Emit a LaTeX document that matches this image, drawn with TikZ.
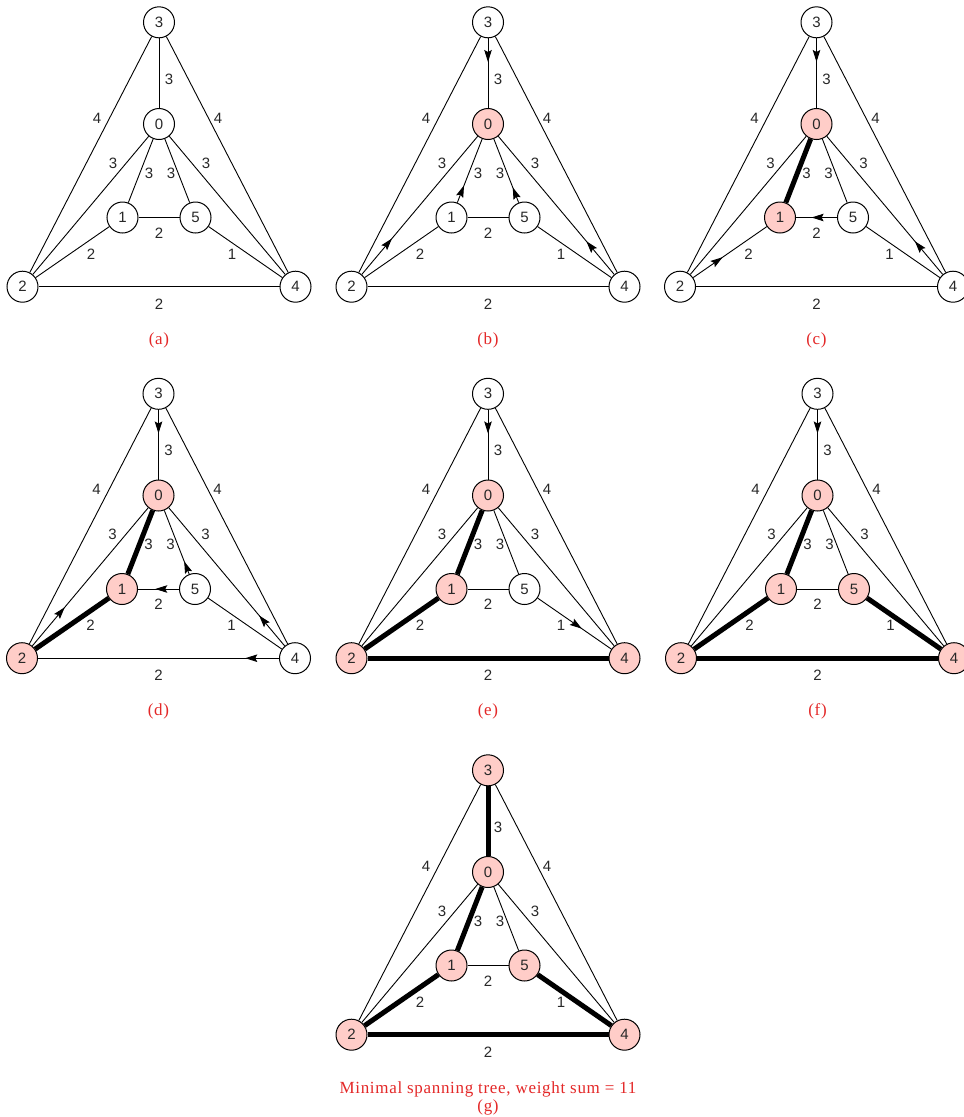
\documentclass[tikz,border=0pt]{standalone}
\usepackage{fontspec}
\setmainfont{Liberation Sans}
\newfontfamily\capfont[LetterSpace=4]{Liberation Serif}
\usetikzlibrary{decorations.markings,arrows.meta}
\definecolor{pinkfill}{RGB}{255,205,200}
\definecolor{capred}{RGB}{228,40,40}
\definecolor{labgray}{RGB}{40,40,40}
\tikzset{
  vtx/.style={circle, draw, line width=1pt, fill=white, minimum size=31pt, inner sep=0pt,
    font=\fontsize{15}{16}\selectfont, text=labgray},
  pinkv/.style={fill=pinkfill},
  edge/.style={line width=0.9pt},
  treeedge/.style={line width=5pt},
  wlab/.style={font=\fontsize{15}{16}\selectfont, text=labgray, inner sep=0pt},
  caplab/.style={font=\capfont\fontsize{17}{18}\selectfont, text=capred, inner sep=0pt, align=center},
  fwd/.style={postaction={decorate}, decoration={markings,
      mark=at position #1 with {\arrow{Stealth[length=12pt,width=7.5pt,inset=2pt]}}}},
  n0/.style={}, n1/.style={}, n2/.style={}, n3/.style={}, n4/.style={}, n5/.style={},
  e30/.style={}, e10/.style={}, e50/.style={}, e20/.style={}, e40/.style={},
  e51/.style={}, e21/.style={}, e42/.style={}, e54/.style={}, e32/.style={}, e34/.style={}
}
\newcommand\graphpanel[4]{%
  \begin{scope}[shift={(#2,#3)}]
    \node[vtx,n3] (#1-3) at (159,22.3) {3};
    \node[vtx,n0] (#1-0) at (159,124) {0};
    \node[vtx,n1] (#1-1) at (122.5,217.5) {1};
    \node[vtx,n5] (#1-5) at (195.5,217.5) {5};
    \node[vtx,n2] (#1-2) at (22.5,286.7) {2};
    \node[vtx,n4] (#1-4) at (295.5,286.7) {4};
    \draw[edge,e32] (#1-3) -- (#1-2);
    \draw[edge,e34] (#1-3) -- (#1-4);
    \draw[edge,e30] (#1-3) -- (#1-0);
    \draw[edge,e10] (#1-1) -- (#1-0);
    \draw[edge,e50] (#1-5) -- (#1-0);
    \draw[edge,e20] (#1-2) -- (#1-0);
    \draw[edge,e40] (#1-4) -- (#1-0);
    \draw[edge,e51] (#1-5) -- (#1-1);
    \draw[edge,e21] (#1-2) -- (#1-1);
    \draw[edge,e42] (#1-4) -- (#1-2);
    \draw[edge,e54] (#1-5) -- (#1-4);
    \node[wlab] (#1-w30) at (169,79) {3};
    \node[wlab] (#1-w32) at (97,118) {4};
    \node[wlab] (#1-w34) at (218,118) {4};
    \node[wlab] (#1-w20) at (113,163) {3};
    \node[wlab] (#1-w10) at (149,173) {3};
    \node[wlab] (#1-w50) at (171,173) {3};
    \node[wlab] (#1-w40) at (206,163) {3};
    \node[wlab] (#1-w51) at (159,233) {2};
    \node[wlab] (#1-w21) at (91,254) {2};
    \node[wlab] (#1-w54) at (232,254) {1};
    \node[wlab] (#1-w42) at (159,304) {2};
    #4
  \end{scope}}
\begin{document}
\begin{tikzpicture}[x=1pt,y=-1pt]
  \clip (0,0) rectangle (964,1117);
  \useasboundingbox (0,0) rectangle (964,1117);
  \fill[white] (0,0) rectangle (964,1117);
  % (a)
  \graphpanel{a}{0}{0}{\node[caplab] (capa) at (159,340) {(a)};}
  % (b)
  \begin{scope}[n0/.style={pinkv}, e30/.style={fwd=0.34}, e10/.style={fwd=0.27},
      e50/.style={fwd=0.24}, e20/.style={fwd=0.26}, e40/.style={fwd=0.24}]
    \graphpanel{b}{329}{0}{\node[caplab] (capb) at (159,340) {(b)};}
  \end{scope}
  % (c)
  \begin{scope}[n0/.style={pinkv}, n1/.style={pinkv}, e10/.style={treeedge},
      e30/.style={fwd=0.34}, e51/.style={fwd=0.62}, e21/.style={fwd=0.4}, e40/.style={fwd=0.24}]
    \graphpanel{c}{657.5}{0}{\node[caplab] (capc) at (159,340) {(c)};}
  \end{scope}
  % (d)
  \begin{scope}[n0/.style={pinkv}, n1/.style={pinkv}, n2/.style={pinkv},
      e10/.style={treeedge}, e21/.style={treeedge},
      e30/.style={fwd=0.34}, e50/.style={fwd=0.2}, e51/.style={fwd=0.58},
      e20/.style={fwd=0.28}, e40/.style={fwd=0.22}, e42/.style={fwd=0.14}]
    \graphpanel{d}{-0.5}{371.5}{\node[caplab] (capd) at (159,340) {(d)};}
  \end{scope}
  % (e)
  \begin{scope}[n0/.style={pinkv}, n1/.style={pinkv}, n2/.style={pinkv}, n4/.style={pinkv},
      e10/.style={treeedge}, e21/.style={treeedge}, e42/.style={treeedge},
      e30/.style={fwd=0.34}, e54/.style={fwd=0.6}]
    \graphpanel{e}{329}{371.5}{\node[caplab] (cape) at (159,340) {(e)};}
  \end{scope}
  % (f)
  \begin{scope}[n0/.style={pinkv}, n1/.style={pinkv}, n2/.style={pinkv}, n4/.style={pinkv},
      n5/.style={pinkv},
      e10/.style={treeedge}, e21/.style={treeedge}, e42/.style={treeedge}, e54/.style={treeedge},
      e30/.style={fwd=0.34}]
    \graphpanel{f}{658.5}{371.5}{\node[caplab] (capf) at (159,340) {(f)};}
  \end{scope}
  % (g)
  \begin{scope}[n0/.style={pinkv}, n1/.style={pinkv}, n2/.style={pinkv}, n3/.style={pinkv},
      n4/.style={pinkv}, n5/.style={pinkv},
      e30/.style={treeedge}, e10/.style={treeedge}, e21/.style={treeedge},
      e42/.style={treeedge}, e54/.style={treeedge}]
    \graphpanel{g}{329}{748}{\node[caplab] (capg) at (159,350) {Minimal spanning tree, weight sum = 11\\(g)};}
  \end{scope}
\end{tikzpicture}
\end{document}
